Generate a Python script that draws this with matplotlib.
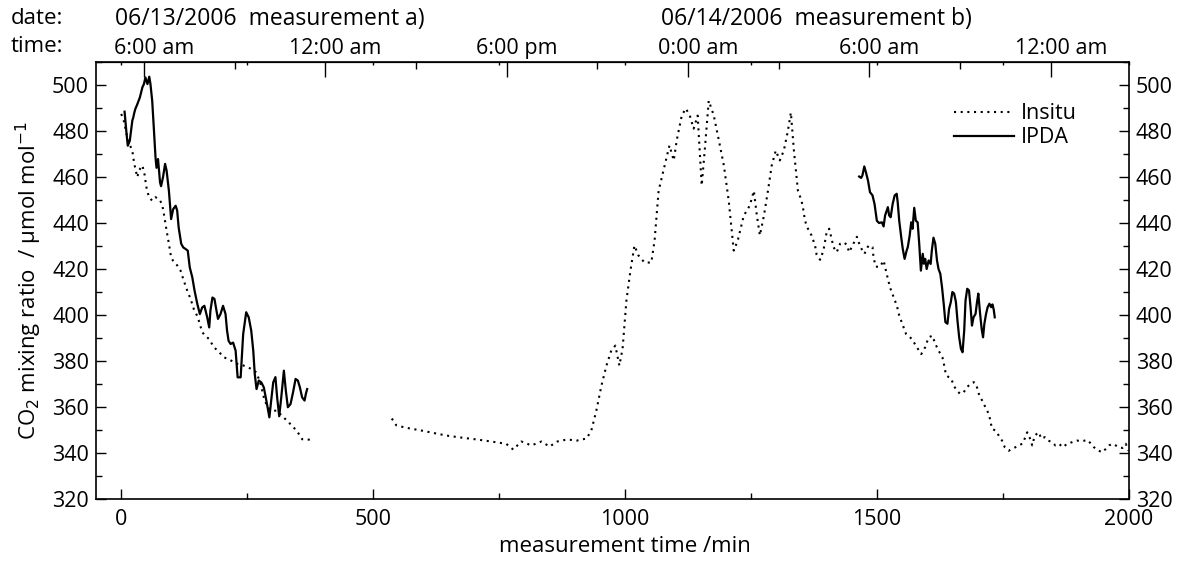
import numpy as np
from matplotlib import pyplot as plt
from matplotlib.ticker import MultipleLocator, FixedLocator, NullFormatter
import matplotlib.transforms as mtransforms

plt.rcParams['font.family'] = ['Open Sans', 'DejaVu Sans']
plt.rc('font', size=15.5)

# IPDA, measurement a)
ipda_a_t = [6.6, 10.6, 13, 17, 22, 24, 26, 28, 32, 37, 42, 45, 48, 52, 55.6, 58, 61.5, 65, 68, 70,
            73, 75, 77, 79, 83, 87, 90, 94.6, 99, 103, 108, 111, 114, 119, 123, 127.6, 132, 136, 141,
            145.5, 151, 156, 160.7, 165, 170.6, 174.6, 177, 181, 185, 189, 192, 197, 202, 207, 210,
            213, 217, 222, 227, 231, 237, 242, 248, 253, 258, 262, 265, 268.5, 273, 278, 283, 288,
            294, 297.6, 301.6, 306, 309.5, 313.5, 317.5, 322.8, 326.7, 330.7, 336, 341, 346, 350.5,
            354.5, 359, 363.8, 366.4, 369]
ipda_a_c = [488.4, 478.7, 473.6, 475.8, 484.5, 486, 488, 489.6, 491.7, 494.6, 499, 500.4, 503.3, 500.4,
            503.6, 500.4, 493, 480, 468.6, 464, 467.8, 462.8, 457.7, 456, 460, 465.7, 462.8, 454, 441.7,
            446, 447.5, 445.4, 438, 431, 429.4, 428.7, 428, 420.7, 416.4, 410.6, 404.8, 400.4, 403.3,
            404, 399, 394.6, 401.9, 407.6, 407, 401.9, 398.3, 400.4, 404, 400.4, 393.2, 388.8, 387.4,
            388, 384.5, 372.9, 372.9, 391.7, 401.2, 399, 393.2, 384.5, 374.3, 367.8, 371.5, 370.7,
            368.5, 362.8, 355.5, 362.8, 370.7, 373, 364, 356, 364, 375.8, 367, 359.9, 361.3, 366.4,
            372.2, 371.5, 368.6, 364.2, 362.8, 365.7, 367.8]

# IPDA, measurement b)
ipda_b_t = [1464.5, 1468.5, 1471, 1474.7, 1478, 1482, 1486, 1491, 1495, 1499.6, 1504, 1509.6, 1513,
            1516, 1521.5, 1524, 1527, 1531, 1535, 1539, 1541, 1544, 1548, 1551, 1554.7, 1558.7, 1561,
            1564.6, 1567.8, 1570.5, 1573.8, 1577, 1580.6, 1583.7, 1587, 1590.7, 1593, 1595.6, 1598.5,
            1602.4, 1606.4, 1608.7, 1612, 1615.5, 1619, 1622, 1625.6, 1629, 1632.3, 1635.6, 1639.7,
            1643, 1646.4, 1649.5, 1653, 1656.5, 1659.6, 1663, 1666.5, 1669.7, 1673, 1675.6, 1679,
            1682.5, 1685.6, 1688.4, 1691.5, 1695.5, 1698.4, 1701, 1704.3, 1707.6, 1710.4, 1713,
            1716.4, 1719.5, 1723, 1726.4, 1729, 1731.6, 1733.6]
ipda_b_c = [460.2, 459.6, 460.7, 464.6, 462, 458.5, 453.4, 452, 448.3, 441, 440, 440.3, 438.5, 443.3,
            446.9, 443.3, 442.5, 448.3, 452, 452.7, 449, 441, 433.8, 428.8, 424.4, 428, 429.5, 434.3,
            440.3, 437.5, 446.6, 441, 440.3, 431, 419.3, 426.6, 422.3, 424.4, 420, 423.7, 422.2, 428,
            433.6, 431, 423.7, 420, 417.9, 412, 404.9, 396.9, 396.2, 402.7, 405.6, 410, 409.3, 405.7,
            397.6, 390.3, 385.3, 383.8, 393.3, 406.3, 411.4, 410.7, 403.4, 395.4, 399, 400.5, 405.6,
            409.3, 401, 394, 390.3, 396.2, 400.5, 403.4, 404.9, 403.4, 404.6, 402.3, 399]

# Insitu, measurement a)
insitu_a_t = [0, 5, 10.6, 15, 22, 25, 28, 32, 35, 42, 46, 50, 55, 61.5, 68, 75, 81, 84.6, 90, 94.6, 99,
              104.5, 111, 117.7, 124, 131, 137.6, 144, 152, 160.7, 167, 174, 184, 194, 204, 217, 230,
              243, 256.6, 268.5, 276.5, 283, 290, 299.6, 309.5, 319.5, 329.4, 342.6, 352.5, 359, 369,
              379]
insitu_a_c = [487.4, 484.5, 478.7, 475, 471.4, 467, 463.5, 459.9, 462.8, 465, 461.4, 455.5, 451.2,
              449.7, 451.2, 450.4, 448.3, 444, 436.7, 431, 425, 423, 421.6, 419.3, 415, 410.6, 407,
              402.6, 399, 392.5, 391, 389.6, 386, 383.9, 381.6, 380.3, 378.8, 378, 376.7, 375, 370,
              364.2, 359.9, 358.4, 358.4, 356, 354, 351, 348.3, 346, 346, 345.4]

# Insitu, measurement b)
insitu_b_t = [537, 546, 565, 595, 625, 645, 675, 705, 734, 764, 778, 794, 814, 834, 850, 865.5, 885,
              904, 923.5, 933, 943, 953, 963, 972.6, 980.6, 988.6, 995, 1002.6, 1010.6, 1018.5,
              1026.5, 1038.5, 1052, 1058.5, 1066.5, 1078.4, 1088, 1096.6, 1102.5, 1112.4, 1120.4,
              1128.4, 1136, 1144, 1152, 1158, 1166, 1176, 1186, 1196, 1205.6, 1215.6, 1223.6, 1235.5,
              1247.5, 1255.5, 1261.5, 1267.5, 1275.5, 1283.5, 1291, 1299, 1307, 1315, 1323, 1329,
              1335, 1343, 1350, 1354, 1357, 1362, 1370, 1377, 1380, 1387, 1393.6, 1400, 1405, 1410,
              1413.6, 1420, 1426.7, 1433.5, 1440, 1444.6, 1453, 1460, 1466.5, 1475, 1483, 1491, 1493,
              1497.6, 1506, 1513, 1521.5, 1526, 1533, 1539.4, 1544, 1551, 1557.5, 1569, 1579, 1587.7,
              1595.6, 1602.4, 1610, 1615.5, 1622, 1630, 1634, 1636.7, 1642, 1647.5, 1652, 1659, 1665,
              1672, 1678.5, 1685, 1692, 1696.5, 1702, 1708.5, 1715, 1721.7, 1725, 1728, 1735, 1741.5,
              1748, 1753.5, 1761.5, 1768, 1774.6, 1781, 1788, 1793, 1798, 1802.6, 1808, 1813, 1821,
              1826, 1833, 1839.6, 1847.5, 1854, 1861, 1869, 1877, 1887, 1897, 1907, 1917, 1924,
              1930.5, 1940, 1947, 1954, 1960.5, 1967, 1973.6, 1980, 1987, 1993.6, 1999]
insitu_b_c = [355, 352, 351, 349.8, 348.5, 347.6, 346.7, 345.9, 345, 344, 341.5, 345, 343.3, 345, 342.8,
              345, 345.9, 345.4, 346.3, 349.8, 358.5, 369.3, 378, 384.6, 386.7, 378, 385.4, 406.3,
              419.3, 430.2, 425.9, 422.8, 422.8, 432.4, 454, 465, 473.7, 467.2, 476, 486.7, 489.8,
              486.7, 481, 486.7, 456.3, 471.5, 493.2, 486.7, 476, 465, 449.8, 428, 432.4, 443.2, 447.6,
              454, 443.2, 434.6, 443.2, 454, 465, 471.5, 467.2, 471.5, 480, 488, 471.5, 454, 449.8,
              445.4, 441, 437.9, 434.6, 430.2, 426.3, 424, 428, 436, 437.5, 433, 429.5, 427.3, 431,
              431.6, 430.6, 427.3, 431, 434, 429.8, 426.6, 430.2, 429.5, 425, 421, 421, 423.7, 415.7,
              411.8, 407.7, 404, 399.8, 395.7, 391.8, 389.6, 386, 383, 386, 390.3, 391, 387.5, 384.6,
              381.4, 377.3, 374, 373, 372.3, 369.3, 367, 365.7, 366.4, 368.6, 370, 370.8, 370, 365.7,
              362.8, 359.9, 357, 354, 350.5, 349.8, 347.6, 345.4, 342.5, 341, 341.8, 342.5, 343.3, 344,
              346.2, 349, 346.9, 343.3, 347.6, 349, 346.2, 346.9, 345.4, 344.7, 343.3, 344, 342.5, 344,
              344.7, 345.4, 345.1, 345.7, 344.2, 342.5, 341, 340.3, 341.8, 343.3, 344, 343.3, 342.5,
              342.2, 344, 341]

# top axis (local time)
time_major = [45, 405, 765, 1125, 1485, 1845]
time_labels = ['6:00 am', '12:00 am', '6:00 pm', '0:00 am', '6:00 am', '12:00 am']
time_minor = [225, 585, 945, 1305, 1665]

fig = plt.figure(figsize=(11.77, 5.61), dpi=100)
ax = fig.add_axes([0.0816, 0.1105, 0.8776, 0.779])

dots = (0, (1, 2.2))
ax.plot(insitu_a_t, insitu_a_c, color='black', lw=1.5, linestyle=dots, label='Insitu')
ax.plot(insitu_b_t, insitu_b_c, color='black', lw=1.5, linestyle=dots)
ax.plot(ipda_a_t, ipda_a_c, color='black', lw=1.6, label='IPDA')
ax.plot(ipda_b_t, ipda_b_c, color='black', lw=1.6)

ax.set_xlim(-50, 2000)
ax.set_ylim(320, 510)
ax.xaxis.set_major_locator(MultipleLocator(500))
ax.xaxis.set_minor_locator(MultipleLocator(250))
ax.yaxis.set_major_locator(MultipleLocator(20))
ax.yaxis.set_minor_locator(MultipleLocator(10))
ax.tick_params(which='both', direction='in', top=False, right=True, labelright=True, width=1,
               labelsize=15.5)
ax.tick_params(which='major', length=7)
ax.tick_params(which='minor', length=4)
ax.tick_params(axis='x', which='major', pad=7)
ax.tick_params(axis='y', which='major', length=7.5, pad=5)

# small mirrored ticks on top
top2 = ax.secondary_xaxis('top')
top2.xaxis.set_major_locator(MultipleLocator(250))
top2.xaxis.set_major_formatter(NullFormatter())
top2.tick_params(direction='in', length=2, width=1)

# time axis on top
top = ax.secondary_xaxis('top')
top.xaxis.set_major_locator(FixedLocator(time_major))
top.xaxis.set_minor_locator(FixedLocator(time_minor))
top.set_xticklabels(time_labels)
top.tick_params(which='major', direction='in', length=11, width=1, pad=2, labelsize=15.5)
top.tick_params(which='minor', direction='in', length=5, width=1)
shift = mtransforms.ScaledTranslation(10 / 100, 0, fig.dpi_scale_trans)
for lab in top.get_xticklabels():
    lab.set_transform(lab.get_transform() + shift)

for s in ax.spines.values():
    s.set_linewidth(1.2)

ax.set_xlabel('measurement time /min', labelpad=3, fontsize=16)
ax.xaxis.set_label_coords(0.512, -0.085)
ax.set_ylabel(r'CO$_2$ mixing ratio  / µmol mol$^{-1}$', labelpad=6, fontsize=16)

fig.text(0.0535, 0.967, 'date:', ha='right', va='center', fontsize=16)
fig.text(0.0535, 0.917, 'time:', ha='right', va='center', fontsize=16)
fig.text(0.098, 0.967, '06/13/2006  measurement a)', ha='left', va='center', fontsize=16.5)
fig.text(0.562, 0.967, '06/14/2006  measurement b)', ha='left', va='center', fontsize=16.5)

ax.legend(loc='upper right', bbox_to_anchor=(0.968, 0.95), frameon=False,
          handlelength=2.8, handletextpad=0.3, labelspacing=0.15, fontsize=15.5)

fig.savefig('out.png', dpi=100)
